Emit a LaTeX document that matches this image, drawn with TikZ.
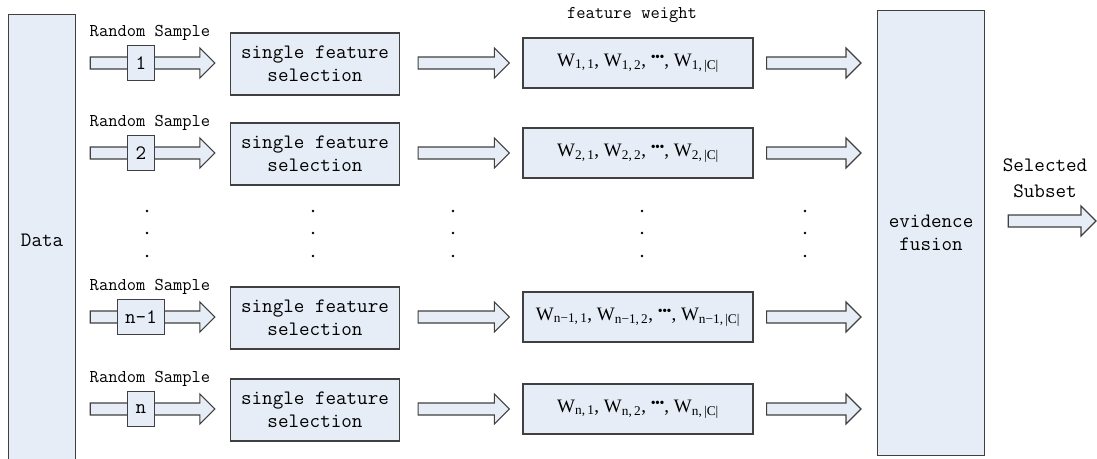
\documentclass[tikz,border=0pt]{standalone}
\usepackage{fontspec}
\setmainfont{Liberation Serif}
\usetikzlibrary{calc,positioning}

\definecolor{boxfill}{RGB}{230,237,247}
\definecolor{boxline}{RGB}{64,64,64}

\tikzset{
  box/.style={draw=boxline, fill=boxfill, line width=1.2pt, inner sep=0pt,
    align=center, font=\ttfamily\fontsize{20.5}{23}\selectfont},
  numbox/.style={box, inner xsep=8pt, minimum height=35},
  fatline/.style={draw=boxline, fill=boxfill, line width=1.1pt, line join=miter},
  lbl/.style={font=\ttfamily\fontsize{18}{19}\selectfont, inner sep=0pt},
  biglbl/.style={font=\ttfamily\fontsize{20.5}{26}\selectfont, inner sep=0pt, align=center},
}

% hollow block arrow from #1 to the tip #2 (same height as #1)
\newcommand{\fatarrow}[2]{%
  \draw[fatline] let \p1=#1, \p2=#2 in
    (\x1,\y1+6pt) -- (\x2-15pt,\y1+6pt) -- (\x2-15pt,\y1+15pt) -- (\x2,\y1)
    -- (\x2-15pt,\y1-15pt) -- (\x2-15pt,\y1-6pt) -- (\x1,\y1-6pt) -- cycle;}

\newcommand{\wrow}[1]{W\textsubscript{#1,\,1}, W\textsubscript{#1,\,2},
  \raisebox{.5ex}{\fontsize{14}{14}\selectfont\textbullet\kern-.5pt\textbullet\kern-.5pt\textbullet},
  W\textsubscript{#1,\,|C|}}

\begin{document}
\begin{tikzpicture}[x=1pt,y=-1pt]
  \useasboundingbox (0,0) rectangle (1097,458);
  \def \selx {315}
  \def \wtx {638}

  \node[box, minimum width=67, minimum height=452, anchor=north west] (data) at (8,14) {Data};
  \node[box, minimum width=107, minimum height=445, anchor=north west] (evid) at (877,10) {evidence\\fusion};
  \node[lbl] (fw) at (632,15) {feature weight};

  \foreach \i/\ry/\num/\sub in {1/63/1/1, 2/153/2/2, 3/317/n-1/n−1, 4/409/n/n}
  {
    \coordinate (row\i) at (0,\ry);
    \node[box, minimum width=169, minimum height=62] (sel\i) at (\selx,\ry+1) {single feature\\selection};
    \node[box, minimum width=230, minimum height=50, font=\fontsize{19}{21}\selectfont] (wt\i) at (\wtx,\ry) {\wrow{\sub}};
    \fatarrow{($(data.east |- row\i)+(14,0)$)}{($(sel\i.west |- row\i)+(-15,0)$)}
    \node[numbox] (num\i) at (141,\ry) {\num};
    \node[lbl] (rs\i) at (150,\ry-30) {Random Sample};
    \fatarrow{($(sel\i.east |- row\i)+(18,0)$)}{($(wt\i.west)+(-13,0)$)}
    \fatarrow{($(wt\i.east)+(13,0)$)}{($(evid.west |- wt\i.west)+(-16,0)$)}
  }

  % vertical dots between row 2 and row n-1
  \foreach \x in {147,313,453,642,805}
    \foreach \yy in {211,233,256}
      \fill (\x,\yy) circle (1.3);

  \coordinate (outend) at (1096,221);
  \fatarrow{($(evid.east |- outend)+(23,0)$)}{(outend)}
  \node[biglbl] (subset) at (1045,178) {Selected\\Subset};
\end{tikzpicture}
\end{document}
